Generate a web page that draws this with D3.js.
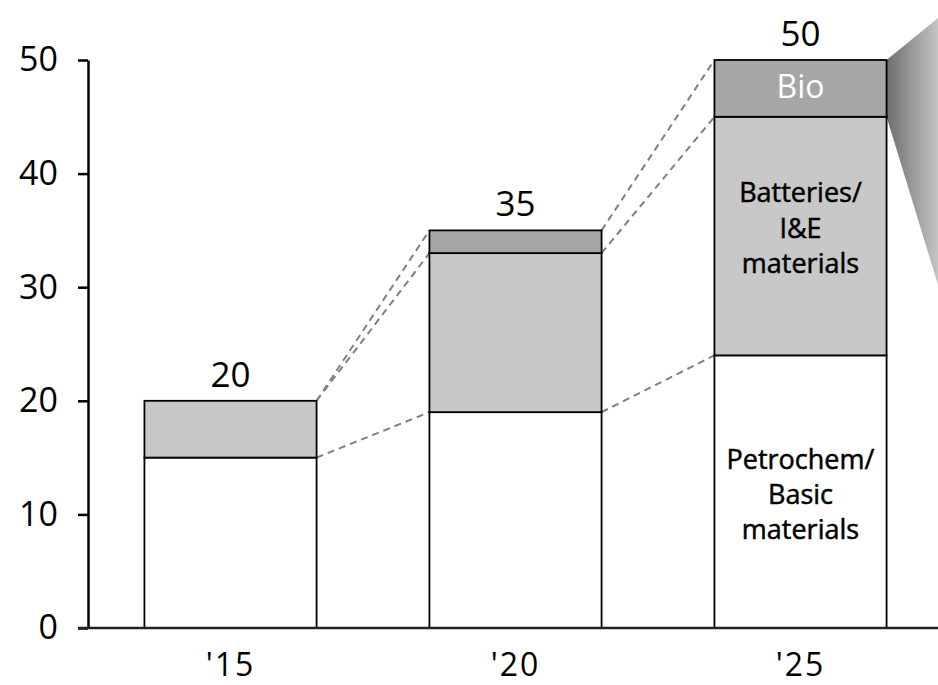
<!DOCTYPE html>
<html><head><meta charset="utf-8">
<script src="https://cdn.jsdelivr.net/npm/d3@7"></script>
<style>body{margin:0;background:#fff}svg{display:block}</style>
</head><body>
<svg id="c" width="938" height="685"></svg>
<script>
const categories = ["'15", "'20", "'25"];
const petrochem = [15, 19, 24];
const batteries = [5, 14, 21];
const bio = [0, 2, 5];
const totals = [20, 35, 50];
const yTicks = [0, 10, 20, 30, 40, 50];
const seriesNames = ["Petrochem/Basic materials", "Batteries/I&E materials", "Bio"];
const segLabels25 = [["Petrochem/", "Basic", "materials"], ["Batteries/", "I&E", "materials"], ["Bio"]];

const svg = d3.select("#c");
const x = d3.scaleBand().domain(categories).range([88, 943]).paddingInner(0.396).paddingOuter(0.198);
const y = d3.scaleLinear().domain([0, 50]).range([628, 60]);
const colors = ["#ffffff", "#c8c8c8", "#a6a6a6"];
const font = "'Open Sans', sans-serif";

const data = categories.map((c, i) => ({cat: c, petro: petrochem[i], batt: batteries[i], bio: bio[i]}));
const stack = d3.stack().keys(["petro", "batt", "bio"])(data);

// gradient wedge
const defs = svg.append("defs");
const g = defs.append("linearGradient").attr("id", "wedge").attr("x1", "0").attr("x2", "1").attr("y1", "0").attr("y2", "0");
g.append("stop").attr("offset", "0").attr("stop-color", "#6e6e6e");
g.append("stop").attr("offset", "1").attr("stop-color", "#c4c4c4");
const xr = x("'25") + x.bandwidth();
svg.append("path").attr("fill", "url(#wedge)")
  .attr("d", `M${xr},${y(50)} L938,${y(50) - 42} L938,${y(45) + 168} L${xr},${y(45)} Z`);

// dashed connectors
const conn = svg.append("g").attr("stroke", "#808080").attr("stroke-width", 2).attr("stroke-dasharray", "7,5").attr("fill", "none");
for (let i = 0; i < categories.length - 1; i++) {
  const x0 = x(categories[i]) + x.bandwidth(), x1 = x(categories[i + 1]);
  const a = [petrochem[i], petrochem[i] + batteries[i], totals[i]];
  const b = [petrochem[i + 1], petrochem[i + 1] + batteries[i + 1], totals[i + 1]];
  for (let k = 0; k < 3; k++) {
    conn.append("line").attr("x1", x0).attr("y1", y(a[k])).attr("x2", x1).attr("y2", y(b[k]));
  }
}

// bars
stack.forEach((s, si) => {
  svg.append("g").selectAll("rect").data(s.filter(d => d[1] > d[0])).join("rect")
    .attr("x", d => x(d.data.cat)).attr("width", x.bandwidth())
    .attr("y", d => y(d[1])).attr("height", d => y(d[0]) - y(d[1]))
    .attr("fill", colors[si]).attr("stroke", "#000").attr("stroke-width", 1.8);
});

// axes
const yAxis = svg.append("g").attr("transform", "translate(88,0)")
  .call(d3.axisLeft(y).tickValues(yTicks).tickSize(10).tickPadding(20).tickSizeOuter(0));
yAxis.select(".domain").attr("stroke", "#000").attr("stroke-width", 2.5);
yAxis.selectAll(".tick line").attr("stroke", "#000").attr("stroke-width", 2.5);
yAxis.selectAll("text").attr("font-family", font).attr("font-size", 34).attr("fill", "#000");

svg.append("line").attr("x1", 78).attr("x2", 938).attr("y1", y(0)).attr("y2", y(0)).attr("stroke", "#222").attr("stroke-width", 2.5);
const xAxis = svg.append("g").attr("transform", `translate(0,${y(0)})`)
  .call(d3.axisBottom(x).tickSize(0).tickPadding(25));
xAxis.select(".domain").remove();
xAxis.selectAll("text").attr("font-family", font).attr("font-size", 32).attr("letter-spacing", 2).attr("fill", "#000");

// totals
svg.append("g").selectAll("text").data(totals).join("text")
  .attr("x", (d, i) => x(categories[i]) + x.bandwidth() / 2).attr("y", d => y(d) - 14)
  .attr("text-anchor", "middle").attr("font-family", font).attr("font-size", 35).attr("fill", "#000").text(d => d);

// segment labels in the last bar
const cx = x("'25") + x.bandwidth() / 2;
const lab = svg.append("g").attr("font-family", "'Open Sans', sans-serif").attr("text-anchor", "middle");
const i25 = 2;
lab.append("text").attr("x", cx).attr("y", (y(totals[i25]) + y(petrochem[i25] + batteries[i25])) / 2 + 10)
  .attr("font-size", 32).attr("fill", "#fff").text(segLabels25[2][0]);
segLabels25[1].forEach((t, k) => lab.append("text").attr("x", cx).attr("y", 202 + k * 35.5).attr("font-size", 27).attr("fill", "#000").attr("stroke", "#000").attr("stroke-width", 0.5).text(t));
segLabels25[0].forEach((t, k) => lab.append("text").attr("x", cx).attr("y", 469 + k * 35).attr("font-size", 27).attr("fill", "#000").attr("stroke", "#000").attr("stroke-width", 0.5).text(t));
</script>
</body></html>
